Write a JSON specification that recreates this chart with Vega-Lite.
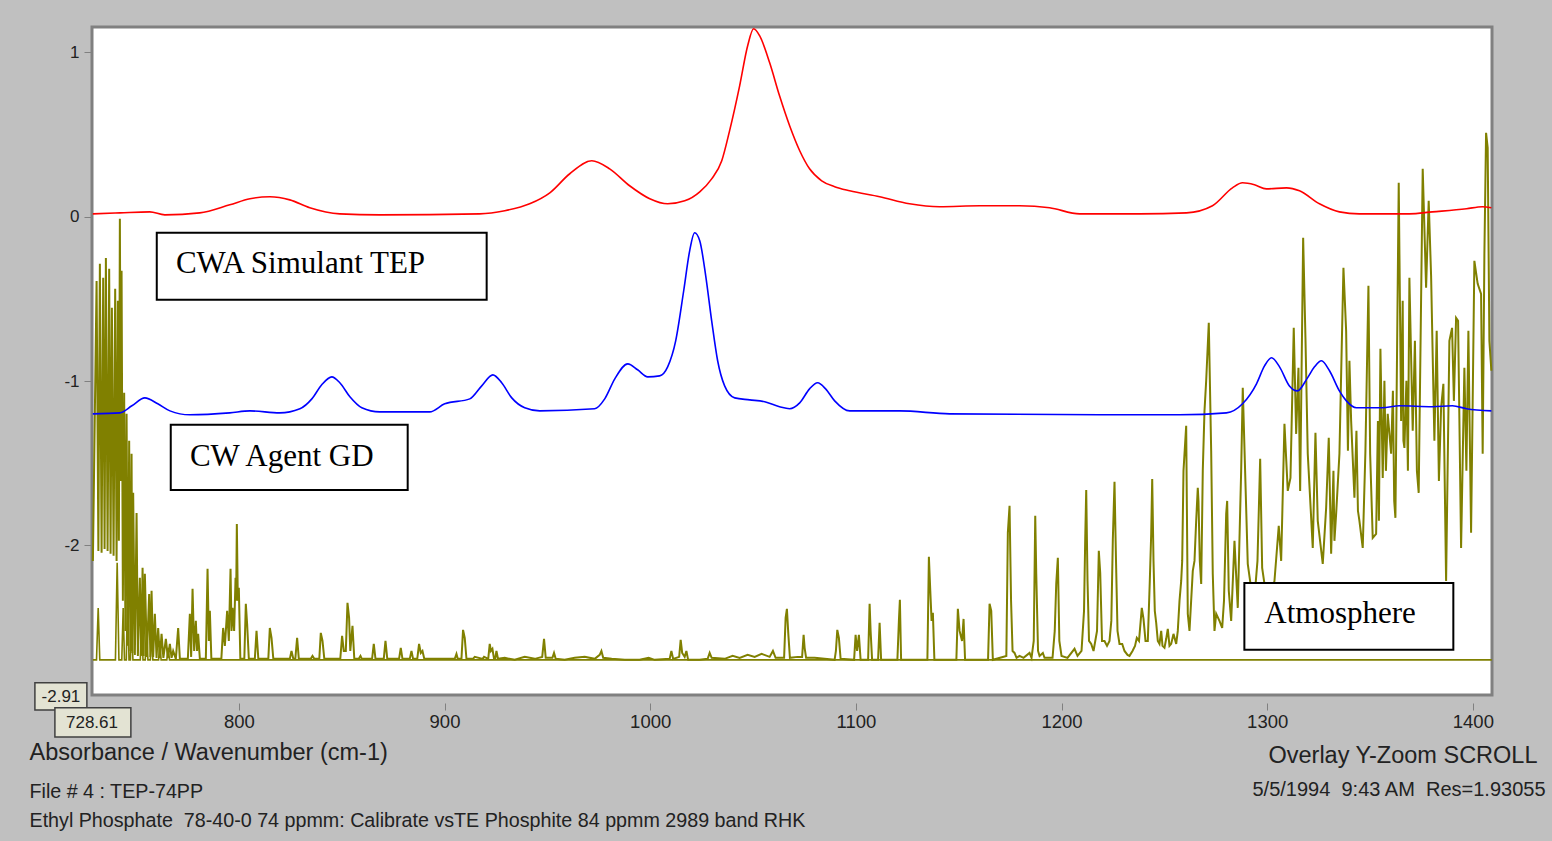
{
"$schema": "https://vega.github.io/schema/vega-lite/v6.json",
"width": 1400, "height": 668,
"autosize": {"type": "none"},
"padding": {"left": 92, "top": 27, "right": 60, "bottom": 146},
"background": "#c0c0c0",
"config": {
 "view": {"fill": "#ffffff", "stroke": "#808080", "strokeWidth": 3},
 "axis": {"labelFont": "Liberation Sans", "titleFont": "Liberation Sans", "titleFontWeight": "normal", "labelColor": "#222222", "titleColor": "#222222", "grid": false, "domain": false}
},
"datasets": {
 "tep": [
  {"wn":729.0,"abs":0.018},{"wn":742.2,"abs":0.024},{"wn":756.7,"abs":0.030},{"wn":764.0,"abs":0.012},{"wn":781.0,"abs":0.024},{"wn":795.6,"abs":0.073},{"wn":805.4,"abs":0.110},{"wn":815.1,"abs":0.122},{"wn":824.8,"abs":0.103},{"wn":834.5,"abs":0.055},{"wn":849.1,"abs":0.018},{"wn":868.5,"abs":0.012},{"wn":917.1,"abs":0.018},{"wn":929.3,"abs":0.037},{"wn":941.4,"abs":0.079},{"wn":951.2,"abs":0.146},{"wn":960.9,"abs":0.262},{"wn":971.6,"abs":0.341},{"wn":980.3,"abs":0.292},{"wn":990.0,"abs":0.189},{"wn":999.8,"abs":0.110},{"wn":1008.5,"abs":0.079},{"wn":1016.8,"abs":0.097},{"wn":1024.1,"abs":0.152},{"wn":1029.9,"abs":0.231},{"wn":1034.8,"abs":0.341},{"wn":1038.6,"abs":0.523},{"wn":1043.5,"abs":0.797},{"wn":1047.4,"abs":1.041},{"wn":1050.3,"abs":1.144},{"wn":1053.2,"abs":1.102},{"wn":1058.1,"abs":0.937},{"wn":1062.9,"abs":0.736},{"wn":1067.8,"abs":0.554},{"wn":1072.7,"abs":0.402},{"wn":1077.5,"abs":0.292},{"wn":1083.4,"abs":0.219},{"wn":1089.7,"abs":0.183},{"wn":1097.0,"abs":0.158},{"wn":1111.6,"abs":0.122},{"wn":1126.1,"abs":0.079},{"wn":1140.7,"abs":0.061},{"wn":1160.2,"abs":0.067},{"wn":1179.6,"abs":0.067},{"wn":1194.2,"abs":0.055},{"wn":1208.8,"abs":0.018},{"wn":1237.9,"abs":0.018},{"wn":1260.8,"abs":0.024},{"wn":1273.4,"abs":0.067},{"wn":1283.1,"abs":0.176},{"wn":1288.0,"abs":0.207},{"wn":1293.8,"abs":0.195},{"wn":1299.6,"abs":0.170},{"wn":1309.4,"abs":0.176},{"wn":1315.7,"abs":0.158},{"wn":1325.4,"abs":0.079},{"wn":1335.1,"abs":0.030},{"wn":1344.8,"abs":0.018},{"wn":1369.1,"abs":0.018},{"wn":1380.3,"abs":0.030},{"wn":1396.9,"abs":0.049},{"wn":1404.6,"abs":0.061},{"wn":1409.0,"abs":0.055}
 ],
 "gd": [
  {"wn":729.0,"abs":-1.199},{"wn":742.2,"abs":-1.193},{"wn":748.0,"abs":-1.150},{"wn":754.3,"abs":-1.102},{"wn":760.6,"abs":-1.138},{"wn":766.5,"abs":-1.181},{"wn":776.2,"abs":-1.205},{"wn":795.6,"abs":-1.193},{"wn":805.4,"abs":-1.181},{"wn":819.9,"abs":-1.193},{"wn":829.7,"abs":-1.168},{"wn":835.5,"abs":-1.108},{"wn":840.3,"abs":-1.022},{"wn":845.2,"abs":-0.974},{"wn":849.1,"abs":-1.010},{"wn":854.0,"abs":-1.095},{"wn":859.8,"abs":-1.162},{"wn":868.5,"abs":-1.187},{"wn":892.8,"abs":-1.187},{"wn":900.1,"abs":-1.138},{"wn":912.3,"abs":-1.108},{"wn":918.1,"abs":-1.029},{"wn":923.5,"abs":-0.962},{"wn":927.8,"abs":-1.010},{"wn":932.7,"abs":-1.102},{"wn":939.0,"abs":-1.162},{"wn":946.3,"abs":-1.181},{"wn":973.0,"abs":-1.168},{"wn":977.9,"abs":-1.108},{"wn":982.8,"abs":-0.986},{"wn":989.1,"abs":-0.895},{"wn":993.9,"abs":-0.931},{"wn":998.8,"abs":-0.974},{"wn":1004.6,"abs":-0.968},{"wn":1008.5,"abs":-0.913},{"wn":1012.4,"abs":-0.755},{"wn":1016.3,"abs":-0.450},{"wn":1019.2,"abs":-0.207},{"wn":1021.6,"abs":-0.097},{"wn":1024.1,"abs":-0.146},{"wn":1027.0,"abs":-0.359},{"wn":1029.9,"abs":-0.633},{"wn":1032.8,"abs":-0.876},{"wn":1036.2,"abs":-1.029},{"wn":1041.1,"abs":-1.102},{"wn":1048.4,"abs":-1.114},{"wn":1055.7,"abs":-1.126},{"wn":1062.9,"abs":-1.156},{"wn":1067.8,"abs":-1.168},{"wn":1072.7,"abs":-1.132},{"wn":1077.5,"abs":-1.047},{"wn":1081.4,"abs":-1.010},{"wn":1085.3,"abs":-1.047},{"wn":1089.7,"abs":-1.120},{"wn":1097.0,"abs":-1.181},{"wn":1121.3,"abs":-1.181},{"wn":1145.6,"abs":-1.199},{"wn":1218.5,"abs":-1.205},{"wn":1257.4,"abs":-1.205},{"wn":1280.2,"abs":-1.193},{"wn":1288.0,"abs":-1.138},{"wn":1294.8,"abs":-1.016},{"wn":1298.7,"abs":-0.907},{"wn":1302.1,"abs":-0.858},{"wn":1306.0,"abs":-0.913},{"wn":1310.8,"abs":-1.029},{"wn":1314.7,"abs":-1.059},{"wn":1319.6,"abs":-0.980},{"wn":1323.0,"abs":-0.913},{"wn":1326.4,"abs":-0.876},{"wn":1330.3,"abs":-0.937},{"wn":1335.1,"abs":-1.059},{"wn":1338.5,"abs":-1.120},{"wn":1343.4,"abs":-1.162},{"wn":1356.0,"abs":-1.162},{"wn":1364.3,"abs":-1.150},{"wn":1380.3,"abs":-1.156},{"wn":1390.0,"abs":-1.150},{"wn":1396.9,"abs":-1.168},{"wn":1409.0,"abs":-1.181}
 ],
 "atm": [
  {"wn":729.04,"abs":-2.094},{"wn":730.84,"abs":-0.390},{"wn":731.71,"abs":-2.033},{"wn":732.44,"abs":-0.286},{"wn":733.27,"abs":-2.045},{"wn":734.05,"abs":-0.371},{"wn":734.73,"abs":-2.021},{"wn":735.36,"abs":-0.250},{"wn":736.19,"abs":-2.033},{"wn":736.96,"abs":-0.316},{"wn":737.64,"abs":-2.051},{"wn":738.28,"abs":-0.554},{"wn":739.10,"abs":-2.063},{"wn":739.88,"abs":-0.438},{"wn":740.56,"abs":-2.094},{"wn":741.19,"abs":-0.511},{"wn":741.68,"abs":-1.972},{"wn":742.16,"abs":-0.012},{"wn":742.65,"abs":-1.607},{"wn":742.99,"abs":-0.329},{"wn":743.62,"abs":-2.337},{"wn":744.25,"abs":-1.071},{"wn":744.84,"abs":-2.520},{"wn":745.42,"abs":-1.199},{"wn":746.05,"abs":-2.611},{"wn":746.68,"abs":-1.363},{"wn":747.27,"abs":-2.642},{"wn":747.85,"abs":-1.442},{"wn":748.24,"abs":-2.654},{"wn":748.63,"abs":-1.680},{"wn":749.45,"abs":-2.666},{"wn":750.28,"abs":-1.802},{"wn":750.91,"abs":-2.672},{"wn":751.88,"abs":-2.197},{"wn":752.52,"abs":-2.672},{"wn":753.20,"abs":-2.136},{"wn":753.73,"abs":-2.672},{"wn":754.31,"abs":-2.173},{"wn":755.29,"abs":-2.678},{"wn":756.40,"abs":-2.295},{"wn":756.99,"abs":-2.678},{"wn":757.57,"abs":-2.276},{"wn":758.35,"abs":-2.678},{"wn":759.17,"abs":-2.416},{"wn":760.00,"abs":-2.684},{"wn":760.78,"abs":-2.502},{"wn":761.60,"abs":-2.684},{"wn":762.43,"abs":-2.538},{"wn":763.31,"abs":-2.684},{"wn":764.52,"abs":-2.568},{"wn":765.49,"abs":-2.684},{"wn":766.47,"abs":-2.599},{"wn":767.29,"abs":-2.684},{"wn":768.07,"abs":-2.642},{"wn":769.38,"abs":-2.690},{"wn":770.50,"abs":-2.502},{"wn":771.33,"abs":-2.690},{"wn":775.21,"abs":-2.690},{"wn":776.19,"abs":-2.416},{"wn":776.82,"abs":-2.678},{"wn":777.50,"abs":-2.264},{"wn":778.28,"abs":-2.642},{"wn":779.10,"abs":-2.459},{"wn":779.68,"abs":-2.642},{"wn":780.22,"abs":-2.538},{"wn":781.05,"abs":-2.690},{"wn":783.96,"abs":-2.690},{"wn":784.79,"abs":-2.142},{"wn":785.42,"abs":-2.581},{"wn":785.91,"abs":-2.398},{"wn":786.64,"abs":-2.690},{"wn":791.50,"abs":-2.690},{"wn":792.37,"abs":-2.502},{"wn":793.20,"abs":-2.611},{"wn":794.32,"abs":-2.398},{"wn":795.14,"abs":-2.581},{"wn":795.97,"abs":-2.142},{"wn":796.45,"abs":-2.520},{"wn":796.94,"abs":-2.380},{"wn":797.72,"abs":-2.520},{"wn":798.40,"abs":-2.197},{"wn":798.69,"abs":-2.337},{"wn":799.03,"abs":-1.869},{"wn":799.52,"abs":-2.337},{"wn":800.00,"abs":-2.258},{"wn":800.73,"abs":-2.690},{"wn":802.67,"abs":-2.690},{"wn":803.40,"abs":-2.355},{"wn":804.03,"abs":-2.477},{"wn":804.86,"abs":-2.690},{"wn":807.78,"abs":-2.690},{"wn":808.60,"abs":-2.520},{"wn":809.48,"abs":-2.690},{"wn":814.34,"abs":-2.690},{"wn":815.07,"abs":-2.502},{"wn":815.89,"abs":-2.562},{"wn":816.77,"abs":-2.690},{"wn":824.79,"abs":-2.690},{"wn":825.61,"abs":-2.642},{"wn":826.49,"abs":-2.690},{"wn":827.46,"abs":-2.690},{"wn":828.34,"abs":-2.562},{"wn":829.16,"abs":-2.690},{"wn":834.99,"abs":-2.690},{"wn":835.82,"abs":-2.672},{"wn":836.69,"abs":-2.690},{"wn":839.13,"abs":-2.690},{"wn":839.85,"abs":-2.532},{"wn":840.68,"abs":-2.581},{"wn":841.56,"abs":-2.690},{"wn":849.33,"abs":-2.690},{"wn":850.21,"abs":-2.550},{"wn":851.03,"abs":-2.642},{"wn":852.01,"abs":-2.642},{"wn":852.83,"abs":-2.349},{"wn":853.61,"abs":-2.441},{"wn":854.19,"abs":-2.642},{"wn":855.26,"abs":-2.489},{"wn":856.14,"abs":-2.690},{"wn":858.32,"abs":-2.690},{"wn":859.15,"abs":-2.672},{"wn":859.78,"abs":-2.690},{"wn":864.79,"abs":-2.690},{"wn":865.61,"abs":-2.599},{"wn":866.44,"abs":-2.690},{"wn":870.47,"abs":-2.690},{"wn":871.30,"abs":-2.581},{"wn":872.17,"abs":-2.690},{"wn":877.91,"abs":-2.690},{"wn":878.74,"abs":-2.623},{"wn":879.56,"abs":-2.690},{"wn":883.11,"abs":-2.690},{"wn":883.94,"abs":-2.642},{"wn":884.72,"abs":-2.690},{"wn":886.76,"abs":-2.690},{"wn":887.63,"abs":-2.599},{"wn":888.46,"abs":-2.654},{"wn":889.28,"abs":-2.642},{"wn":890.16,"abs":-2.690},{"wn":904.98,"abs":-2.690},{"wn":905.81,"abs":-2.660},{"wn":906.44,"abs":-2.690},{"wn":908.24,"abs":-2.690},{"wn":909.02,"abs":-2.514},{"wn":909.84,"abs":-2.562},{"wn":910.67,"abs":-2.690},{"wn":913.88,"abs":-2.690},{"wn":914.70,"abs":-2.678},{"wn":918.59,"abs":-2.690},{"wn":919.22,"abs":-2.678},{"wn":921.26,"abs":-2.690},{"wn":921.99,"abs":-2.599},{"wn":922.57,"abs":-2.642},{"wn":923.30,"abs":-2.629},{"wn":924.08,"abs":-2.690},{"wn":924.66,"abs":-2.690},{"wn":925.25,"abs":-2.642},{"wn":926.02,"abs":-2.690},
  {"wn":929.29,"abs":-2.684},{"wn":934.15,"abs":-2.696},{"wn":939.01,"abs":-2.678},{"wn":943.87,"abs":-2.690},{"wn":947.51,"abs":-2.678},{"wn":948.39,"abs":-2.568},{"wn":949.21,"abs":-2.684},{"wn":952.47,"abs":-2.684},{"wn":953.25,"abs":-2.654},{"wn":954.07,"abs":-2.690},{"wn":958.45,"abs":-2.696},{"wn":963.31,"abs":-2.684},{"wn":968.17,"abs":-2.678},{"wn":973.03,"abs":-2.690},{"wn":975.46,"abs":-2.666},{"wn":976.29,"abs":-2.642},{"wn":977.16,"abs":-2.684},{"wn":981.29,"abs":-2.690},{"wn":987.61,"abs":-2.696},{"wn":994.90,"abs":-2.696},{"wn":999.27,"abs":-2.684},{"wn":1002.19,"abs":-2.696},{"wn":1009.48,"abs":-2.690},{"wn":1010.31,"abs":-2.642},{"wn":1011.18,"abs":-2.690},{"wn":1014.10,"abs":-2.678},{"wn":1014.83,"abs":-2.575},{"wn":1015.56,"abs":-2.654},{"wn":1016.77,"abs":-2.678},{"wn":1017.60,"abs":-2.642},{"wn":1018.47,"abs":-2.696},{"wn":1024.06,"abs":-2.696},{"wn":1027.95,"abs":-2.690},{"wn":1028.92,"abs":-2.654},{"wn":1029.89,"abs":-2.684},{"wn":1036.21,"abs":-2.690},{"wn":1040.10,"abs":-2.672},{"wn":1043.50,"abs":-2.684},{"wn":1047.39,"abs":-2.666},{"wn":1050.79,"abs":-2.678},{"wn":1054.19,"abs":-2.660},{"wn":1058.08,"abs":-2.678},{"wn":1059.68,"abs":-2.642},{"wn":1060.99,"abs":-2.684},{"wn":1065.12,"abs":-2.684},{"wn":1065.85,"abs":-2.441},{"wn":1066.48,"abs":-2.386},{"wn":1067.16,"abs":-2.538},{"wn":1067.94,"abs":-2.684},{"wn":1071.69,"abs":-2.678},{"wn":1073.87,"abs":-2.678},{"wn":1074.60,"abs":-2.544},{"wn":1075.09,"abs":-2.623},{"wn":1075.82,"abs":-2.684},{"wn":1079.95,"abs":-2.684},{"wn":1084.81,"abs":-2.690},{"wn":1089.67,"abs":-2.696},{"wn":1090.30,"abs":-2.642},{"wn":1090.98,"abs":-2.514},{"wn":1091.76,"abs":-2.562},{"wn":1092.59,"abs":-2.690},{"wn":1099.15,"abs":-2.696},{"wn":1099.88,"abs":-2.544},{"wn":1100.61,"abs":-2.642},{"wn":1101.48,"abs":-2.544},{"wn":1102.31,"abs":-2.696},{"wn":1105.96,"abs":-2.696},{"wn":1106.69,"abs":-2.355},{"wn":1107.17,"abs":-2.520},{"wn":1107.90,"abs":-2.696},{"wn":1110.81,"abs":-2.696},{"wn":1111.55,"abs":-2.471},{"wn":1112.28,"abs":-2.696},{"wn":1120.20,"abs":-2.696},{"wn":1120.93,"abs":-2.459},{"wn":1121.41,"abs":-2.331},{"wn":1122.00,"abs":-2.696},{"wn":1134.78,"abs":-2.696},{"wn":1135.51,"abs":-2.069},{"wn":1136.19,"abs":-2.276},{"wn":1136.82,"abs":-2.459},{"wn":1137.45,"abs":-2.410},{"wn":1138.18,"abs":-2.696},{"wn":1148.87,"abs":-2.696},{"wn":1149.60,"abs":-2.386},{"wn":1150.43,"abs":-2.520},{"wn":1151.64,"abs":-2.581},{"wn":1152.37,"abs":-2.447},{"wn":1153.10,"abs":-2.696},{"wn":1164.28,"abs":-2.696},{"wn":1165.01,"abs":-2.355},{"wn":1165.83,"abs":-2.398},{"wn":1166.61,"abs":-2.696},{"wn":1173.17,"abs":-2.672},{"wn":1173.90,"abs":-1.923},{"wn":1174.73,"abs":-1.759},{"wn":1175.46,"abs":-2.337},{"wn":1176.19,"abs":-2.642},{"wn":1177.16,"abs":-2.654},{"wn":1178.13,"abs":-2.684},{"wn":1179.59,"abs":-2.672},{"wn":1181.53,"abs":-2.684},{"wn":1184.45,"abs":-2.654},{"wn":1185.42,"abs":-2.684},{"wn":1186.49,"abs":-2.581},{"wn":1187.22,"abs":-1.820},{"wn":1187.71,"abs":-2.173},{"wn":1188.58,"abs":-2.642},{"wn":1189.31,"abs":-2.672},{"wn":1190.92,"abs":-2.654},{"wn":1191.74,"abs":-2.684},{"wn":1195.63,"abs":-2.684},{"wn":1196.70,"abs":-2.520},{"wn":1197.43,"abs":-2.234},{"wn":1198.21,"abs":-2.075},{"wn":1198.94,"abs":-2.581},{"wn":1200.00,"abs":-2.672},{"wn":1202.92,"abs":-2.684},{"wn":1206.32,"abs":-2.629},{"wn":1207.78,"abs":-2.672},{"wn":1209.72,"abs":-2.642},{"wn":1210.94,"abs":-2.398},{"wn":1211.52,"abs":-1.960},{"wn":1212.01,"abs":-1.662},{"wn":1212.64,"abs":-2.216},{"wn":1213.37,"abs":-2.581},{"wn":1214.44,"abs":-2.599},{"wn":1215.56,"abs":-2.642},{"wn":1217.26,"abs":-2.520},{"wn":1218.13,"abs":-2.033},{"wn":1218.81,"abs":-2.167},{"wn":1219.69,"abs":-2.581},{"wn":1220.90,"abs":-2.581},{"wn":1222.12,"abs":-2.611},{"wn":1223.33,"abs":-2.581},{"wn":1224.21,"abs":-2.459},{"wn":1224.94,"abs":-1.966},{"wn":1225.76,"abs":-1.613},{"wn":1226.49,"abs":-2.094},{"wn":1227.22,"abs":-2.520},{"wn":1228.19,"abs":-2.599},{"wn":1229.51,"abs":-2.599},{"wn":1230.62,"abs":-2.642},{"wn":1232.08,"abs":-2.666},{"wn":1233.05,"abs":-2.672},{"wn":1234.51,"abs":-2.642},{"wn":1235.73,"abs":-2.611},{"wn":1236.60,"abs":-2.562},{"wn":1237.67,"abs":-2.581},{"wn":1239.03,"abs":-2.380},{"wn":1239.86,"abs":-2.447},{"wn":1240.83,"abs":-2.581},{"wn":1241.95,"abs":-2.581},{"wn":1242.92,"abs":-2.216},{"wn":1243.60,"abs":-1.929},{"wn":1244.09,"abs":-1.595},{"wn":1244.72,"abs":-2.094},{"wn":1245.35,"abs":-2.398},{"wn":1246.03,"abs":-2.471},{"wn":1246.81,"abs":-2.581},{"wn":1247.63,"abs":-2.599},{"wn":1248.46,"abs":-2.520},{"wn":1249.09,"abs":-2.611},{"wn":1250.06,"abs":-2.623},{"wn":1250.89,"abs":-2.568},{"wn":1251.67,"abs":-2.508},{"wn":1252.49,"abs":-2.611},{"wn":1253.32,"abs":-2.599},{"wn":1254.44,"abs":-2.538},{"wn":1255.75,"abs":-2.599},{"wn":1256.53,"abs":-2.520},{"wn":1257.36,"abs":-2.337},{"wn":1258.18,"abs":-2.216},{"wn":1258.67,"abs":-2.094},{"wn":1259.30,"abs":-1.546},{"wn":1260.61,"abs":-1.272},{"wn":1261.39,"abs":-2.416},{"wn":1262.22,"abs":-2.520},{"wn":1263.82,"abs":-2.155},{"wn":1264.65,"abs":-2.094},{"wn":1265.47,"abs":-1.850},{"wn":1266.25,"abs":-1.649},{"wn":1266.59,"abs":-1.729},{"wn":1267.23,"abs":-2.094},{"wn":1267.91,"abs":-2.234},{"wn":1268.68,"abs":-1.546},{"wn":1269.51,"abs":-1.181},{"wn":1270.33,"abs":-0.998},{"wn":1271.60,"abs":-0.645},{"wn":1272.76,"abs":-1.424},{"wn":1273.54,"abs":-2.173},{"wn":1274.37,"abs":-2.520},{"wn":1275.20,"abs":-2.416},{"wn":1276.80,"abs":-2.459},{"wn":1278.11,"abs":-2.502},{"wn":1278.99,"abs":-2.337},{"wn":1280.06,"abs":-1.808},{"wn":1280.54,"abs":-1.729},{"wn":1281.32,"abs":-2.276},{"wn":1282.48,"abs":-2.459},{"wn":1284.09,"abs":-1.972},{"wn":1285.69,"abs":-2.380},{"wn":1287.34,"abs":-1.546},{"wn":1288.12,"abs":-1.041},{"wn":1289.77,"abs":-1.771},{"wn":1290.55,"abs":-2.112},{"wn":1292.35,"abs":-2.276},{"wn":1293.81,"abs":-2.319},{"wn":1295.27,"abs":-2.094},{"wn":1296.58,"abs":-1.473},{"wn":1297.55,"abs":-2.136},{"wn":1299.16,"abs":-2.276},{"wn":1301.10,"abs":-2.337},{"wn":1303.53,"abs":-2.216},{"wn":1305.62,"abs":-1.881},{"wn":1306.79,"abs":-2.094},{"wn":1308.39,"abs":-1.260},{"wn":1310.00,"abs":-1.668},{"wn":1311.31,"abs":-1.589},{"wn":1312.91,"abs":-0.676},{"wn":1314.08,"abs":-1.321},{"wn":1315.20,"abs":-0.919},{"wn":1316.02,"abs":-1.668},{"wn":1317.48,"abs":-0.128},{"wn":1318.60,"abs":-0.736},{"wn":1319.72,"abs":-1.442},{"wn":1322.15,"abs":-2.015},{"wn":1323.46,"abs":-1.315},{"wn":1324.58,"abs":-1.850},{"wn":1327.01,"abs":-2.112},{"wn":1328.66,"abs":-1.771},{"wn":1329.93,"abs":-1.345},{"wn":1331.09,"abs":-2.051},{"wn":1333.52,"abs":-1.808},{"wn":1335.12,"abs":-1.442},{"wn":1337.07,"abs":-0.310},{"wn":1338.38,"abs":-0.694},{"wn":1340.81,"abs":-1.242},{"wn":1342.41,"abs":-1.710},{"wn":1344.84,"abs":-1.850},{"wn":1346.45,"abs":-2.015},{"wn":1347.76,"abs":-1.424},{"wn":1349.22,"abs":-0.420},{"wn":1350.05,"abs":-1.442},{"wn":1351.31,"abs":-1.954},{"wn":1352.96,"abs":-1.929},{"wn":1355.05,"abs":-0.803},{"wn":1356.17,"abs":-1.589},{"wn":1358.60,"abs":-1.199},{"wn":1360.25,"abs":-1.442},{"wn":1362.34,"abs":-1.832},{"wn":1363.95,"abs":0.207},{"wn":1365.11,"abs":-1.242},{"wn":1366.72,"abs":-1.406},{"wn":1369.14,"abs":-0.371},{"wn":1370.75,"abs":-1.302},{"wn":1373.66,"abs":-1.680},{"wn":1375.61,"abs":0.292},{"wn":1377.26,"abs":-0.432},{"wn":1378.52,"abs":0.097},{"wn":1379.69,"abs":-0.359},{"wn":1381.29,"abs":-1.363},{"wn":1382.41,"abs":-0.694},{"wn":1384.55,"abs":-1.163},{"wn":1385.66,"abs":-1.016},{"wn":1386.98,"abs":-2.216},{"wn":1388.58,"abs":-0.755},{"wn":1389.89,"abs":-0.676},{"wn":1391.84,"abs":-0.615},{"wn":1392.81,"abs":-0.633},{"wn":1394.27,"abs":-2.015},{"wn":1395.87,"abs":-0.919},{"wn":1399.13,"abs":-1.923},{"wn":1400.73,"abs":-0.268},{"wn":1402.34,"abs":-0.408},{"wn":1403.99,"abs":-0.469},{"wn":1404.77,"abs":-1.442},{"wn":1405.60,"abs":-0.225},{"wn":1406.42,"abs":0.511},{"wn":1407.20,"abs":0.420},{"wn":1408.03,"abs":-0.755},{"wn":1409.00,"abs":-0.937},
  {"wn":1332.21,"abs":-1.546},{"wn":1332.69,"abs":-1.972},{"wn":1339.25,"abs":-1.424},{"wn":1339.98,"abs":-0.876},{"wn":1343.39,"abs":-1.302},{"wn":1344.12,"abs":-1.789},{"wn":1353.83,"abs":-1.242},{"wn":1354.32,"abs":-1.850},{"wn":1356.99,"abs":-0.998},{"wn":1357.72,"abs":-1.546},{"wn":1361.12,"abs":-1.059},{"wn":1361.75,"abs":-1.729},{"wn":1365.88,"abs":-0.511},{"wn":1366.23,"abs":-1.363},{"wn":1367.68,"abs":-0.998},{"wn":1368.41,"abs":-1.546},{"wn":1371.82,"abs":-0.755},{"wn":1372.79,"abs":-1.546},{"wn":1383.48,"abs":-1.607},{"wn":1390.77,"abs":-1.120},{"wn":1396.85,"abs":-1.546},{"wn":1397.82,"abs":-0.694}
 ],
 "atm2": [
  {"wn":729.04,"abs":-2.696},{"wn":730.8,"abs":-2.696},{"wn":731.62,"abs":-2.380},{"wn":732.4,"abs":-2.696},{"wn":740.0,"abs":-2.696},{"wn":740.85,"abs":-2.106},{"wn":741.7,"abs":-2.696},{"wn":743.1,"abs":-2.696},{"wn":743.77,"abs":-2.380},{"wn":744.4,"abs":-2.696},{"wn":745.3,"abs":-2.696},{"wn":745.91,"abs":-2.258},{"wn":746.6,"abs":-2.696},{"wn":747.3,"abs":-2.696},{"wn":747.85,"abs":-2.441},{"wn":748.5,"abs":-2.696},{"wn":752.1,"abs":-2.696},{"wn":752.71,"abs":-2.398},{"wn":753.4,"abs":-2.696},{"wn":754.5,"abs":-2.696},{"wn":755.14,"abs":-2.459},{"wn":755.8,"abs":-2.696},{"wn":757.0,"abs":-2.696},{"wn":757.57,"abs":-2.538},{"wn":758.2,"abs":-2.696},{"wn":761.0,"abs":-2.696},{"wn":761.6,"abs":-2.581},{"wn":762.2,"abs":-2.696},{"wn":765.0,"abs":-2.696},{"wn":765.64,"abs":-2.623},{"wn":766.3,"abs":-2.696},{"wn":1409.2,"abs":-2.696}
 ],
 "labels": [
  {"label":"CWA Simulant TEP","x1":760.1,"x2":920.5,"y1":-0.097,"y2":-0.505,"tx":769.4,"ty":-0.341},
  {"label":"CW Agent GD","x1":766.9,"x2":882.1,"y1":-1.266,"y2":-1.662,"tx":776.2,"ty":-1.515},
  {"label":"Atmosphere","x1":1288.9,"x2":1390.5,"y1":-2.228,"y2":-2.635,"tx":1298.6,"ty":-2.471}
 ],
 "readouts": [
  {"label":"-2.91","x1":700.85,"x2":726.12,"y1":-2.836,"y2":-3.001,"tx":713.5,"ty":-2.921},
  {"label":"728.61","x1":710.57,"x2":747.51,"y1":-2.988,"y2":-3.165,"tx":728.6,"ty":-3.078}
 ]
},
"layer": [
 {"data": {"name": "atm"},
  "mark": {"type": "line", "color": "#808000", "strokeWidth": 2},
  "encoding": {
   "x": {"field": "wn", "type": "quantitative", "scale": {"domain": [728.61, 1409.3], "nice": false, "zero": false},
     "axis": {"orient": "bottom", "offset": 8, "values": [800, 900, 1000, 1100, 1200, 1300, 1400], "format": "d", "tickSize": 7, "tickColor": "#808080", "tickWidth": 1, "labelFontSize": 18.5, "labelPadding": 2, "labelFlush": false, "labelOverlap": false,
       "title": "Absorbance / Wavenumber (cm-1)", "titleFontSize": 23.5, "titleX": -63, "titleY": 56, "titleAlign": "left", "titleBaseline": "alphabetic", "titleAngle": 0}},
   "y": {"field": "abs", "type": "quantitative", "scale": {"domain": [-2.91, 1.155], "nice": false, "zero": false},
     "axis": {"orient": "left", "values": [1, 0, -1, -2], "tickSize": 8, "tickColor": "#808080", "tickWidth": 1, "labelFontSize": 17, "labelPadding": 5, "labelExpr": "toString(datum.value)", "labelFlush": false,
       "title": "Overlay Y-Zoom SCROLL", "titleFontSize": 23.5, "titleAngle": 0, "titleAlign": "right", "titleBaseline": "alphabetic", "titleX": 1445, "titleY": 735}}
  }},
 {"data": {"name": "atm2"},
  "mark": {"type": "line", "color": "#808000", "strokeWidth": 1.6},
  "encoding": {
   "x": {"field": "wn", "type": "quantitative", "scale": {"domain": [728.61, 1409.3], "nice": false, "zero": false},
     "axis": {"orient": "top", "labels": false, "ticks": false, "domain": false, "grid": false,
       "title": "5/5/1994\u00a0 9:43 AM\u00a0 Res=1.93055", "titleFontSize": 20, "titleAngle": 0, "titleAlign": "right", "titleBaseline": "alphabetic", "titleX": 1453, "titleY": 768}},
   "y": {"field": "abs", "type": "quantitative", "scale": {"domain": [-2.91, 1.155], "nice": false, "zero": false},
     "axis": {"orient": "right", "labels": false, "ticks": false, "domain": false, "grid": false,
       "title": ["File # 4 : TEP-74PP", "Ethyl Phosphate\u00a0 78-40-0 74 ppmm: Calibrate vsTE Phosphite 84 ppmm 2989 band RHK"], "titleFontSize": 19.7, "titleLineHeight": 29, "titleAngle": 0, "titleAlign": "left", "titleBaseline": "alphabetic", "titleX": -1463, "titleY": 770}}
  }},
 {"data": {"name": "gd"},
  "mark": {"type": "line", "color": "#0000ff", "strokeWidth": 1.6, "interpolate": "monotone"},
  "encoding": {
   "x": {"field": "wn", "type": "quantitative", "scale": {"domain": [728.61, 1409.3], "nice": false, "zero": false}, "axis": null},
   "y": {"field": "abs", "type": "quantitative", "scale": {"domain": [-2.91, 1.155], "nice": false, "zero": false}, "axis": null}
  }},
 {"data": {"name": "tep"},
  "mark": {"type": "line", "color": "#ff0000", "strokeWidth": 1.6, "interpolate": "monotone"},
  "encoding": {
   "x": {"field": "wn", "type": "quantitative", "scale": {"domain": [728.61, 1409.3], "nice": false, "zero": false}, "axis": null},
   "y": {"field": "abs", "type": "quantitative", "scale": {"domain": [-2.91, 1.155], "nice": false, "zero": false}, "axis": null}
  }},
 {"data": {"name": "labels"},
  "mark": {"type": "rect", "fill": "#ffffff", "stroke": "#000000", "strokeWidth": 2},
  "encoding": {
   "x": {"field": "x1", "type": "quantitative", "scale": {"domain": [728.61, 1409.3], "nice": false, "zero": false}, "axis": null},
   "x2": {"field": "x2"},
   "y": {"field": "y1", "type": "quantitative", "scale": {"domain": [-2.91, 1.155], "nice": false, "zero": false}, "axis": null},
   "y2": {"field": "y2"}
  }},
 {"data": {"name": "labels"},
  "mark": {"type": "text", "font": "Liberation Serif", "fontSize": 31, "align": "left", "baseline": "alphabetic", "color": "#000000"},
  "encoding": {
   "x": {"field": "tx", "type": "quantitative", "scale": {"domain": [728.61, 1409.3], "nice": false, "zero": false}, "axis": null},
   "y": {"field": "ty", "type": "quantitative", "scale": {"domain": [-2.91, 1.155], "nice": false, "zero": false}, "axis": null},
   "text": {"field": "label"}
  }},
 {"data": {"name": "readouts"},
  "mark": {"type": "rect", "fill": "#e3e3d3", "stroke": "#404040", "strokeWidth": 1.5},
  "encoding": {
   "x": {"field": "x1", "type": "quantitative", "scale": {"domain": [728.61, 1409.3], "nice": false, "zero": false}, "axis": null},
   "x2": {"field": "x2"},
   "y": {"field": "y1", "type": "quantitative", "scale": {"domain": [-2.91, 1.155], "nice": false, "zero": false}, "axis": null},
   "y2": {"field": "y2"}
  }},
 {"data": {"name": "readouts"},
  "mark": {"type": "text", "font": "Liberation Sans", "fontSize": 17, "align": "center", "baseline": "middle", "color": "#222222"},
  "encoding": {
   "x": {"field": "tx", "type": "quantitative", "scale": {"domain": [728.61, 1409.3], "nice": false, "zero": false}, "axis": null},
   "y": {"field": "ty", "type": "quantitative", "scale": {"domain": [-2.91, 1.155], "nice": false, "zero": false}, "axis": null},
   "text": {"field": "label"}
  }}
],
"resolve": {"axis": {"x": "independent", "y": "independent"}}
}
